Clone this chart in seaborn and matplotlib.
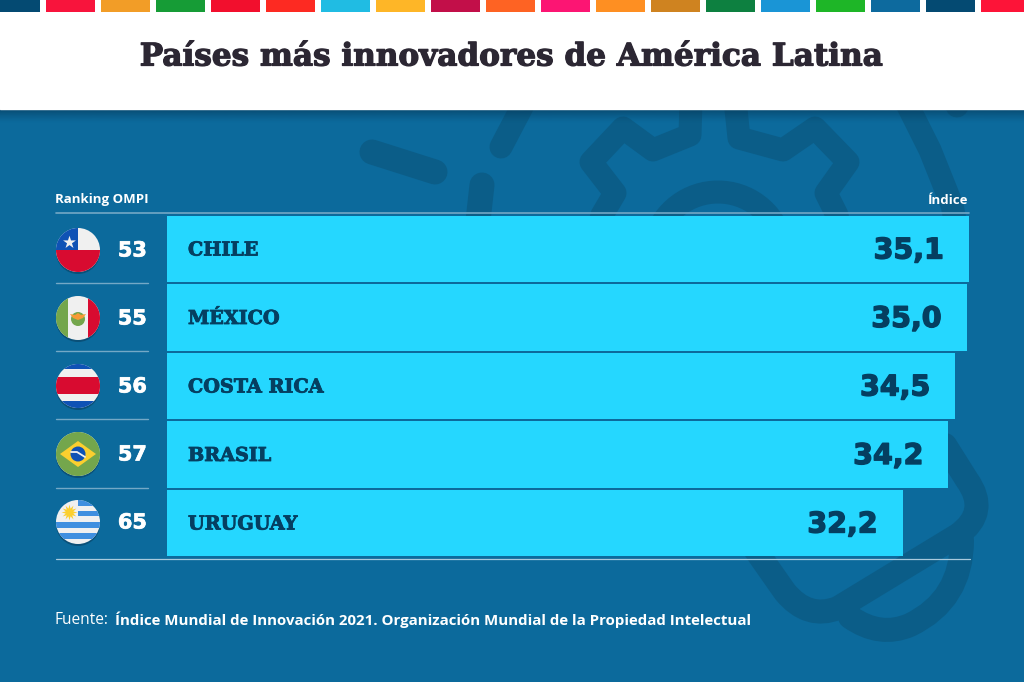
import numpy as np
import pandas as pd
import matplotlib.pyplot as plt
import matplotlib.patheffects as pe
import seaborn as sns
from matplotlib.patches import Circle, Rectangle, Polygon, PathPatch
from matplotlib.path import Path

paises = ["CHILE", "MÉXICO", "COSTA RICA", "BRASIL", "URUGUAY"]
indice = [35.1, 35.0, 34.5, 34.2, 32.2]
ranking = [53, 55, 56, 57, 65]
etiquetas = ["35,1", "35,0", "34,5", "34,2", "32,2"]
banderas = ["chile", "mexico", "costa_rica", "brasil", "uruguay"]

titulo = "Países más innovadores de América Latina"
fuente_a = "Fuente:"
fuente_b = "Índice Mundial de Innovación 2021. Organización Mundial de la Propiedad Intelectual"

colores_ods = ["#044a72", "#f8143c", "#f29d27", "#169c36", "#f20f2d", "#fd2a22", "#20bce3",
               "#feb627", "#c20f49", "#fe6323", "#fc1573", "#fe8f22", "#cf8320", "#0d8040",
               "#1a95d6", "#1eb627", "#0d6a9e", "#044a72", "#fd1438"]

AZUL = "#0c6a9c"
FANTASMA = "#0b5d88"
CIAN = "#25d7ff"
OSCURO = "#053f61"
LINEA = "#74a8c6"
ROJO = "#d80b30"
AZUL_B = "#0f52b5"
BLANCO_B = "#f0f0f0"
VERDE = "#74a64c"
AMARILLO = "#fbcf2f"
PX = 72 / 100

sns.set_theme(style="white")
plt.rcParams["font.family"] = ["Open Sans", "DejaVu Sans"]

fig = plt.figure(figsize=(10.24, 6.82), dpi=100, facecolor=AZUL)

# fondo en pixeles
bg = fig.add_axes([0, 0, 1, 1], zorder=0)
bg.set_facecolor(AZUL)
bg.axis("off")


def trazo(xs, ys, grosor=23):
    bg.plot(xs, ys, color=FANTASMA, lw=grosor * PX, solid_capstyle="round",
            solid_joinstyle="round", zorder=1)


def curva(puntos, codigos, grosor=23):
    bg.add_patch(PathPatch(Path(puntos, codigos), fc="none", ec=FANTASMA, lw=grosor * PX,
                           capstyle="round", joinstyle="round", zorder=1))


# engranaje y bombilla de fondo
trazo([372, 435], [152, 172], 25)
trazo([523, 501], [105, 147])
trazo([482, 477], [185, 230], 25)
trazo([691, 690, 653, 623, 591, 615, 602, 596], [100, 135, 150, 128, 162, 193, 215, 240])
trazo([735, 739, 783, 815, 848, 826, 837, 842], [100, 138, 150, 128, 162, 193, 215, 240])
t = np.linspace(np.pi, 2 * np.pi, 40)
trazo(718 + 66 * np.cos(t), 258 + 66 * np.sin(t))
trazo([905, 930, 952, 956], [100, 150, 205, 225])
trazo([960, 957], [100, 106])
C3, M, L = Path.CURVE3, Path.MOVETO, Path.LINETO
curva([(745, 535), (785, 592), (808, 620), (838, 608), (958, 535), (990, 512), (967, 480), (945, 445)],
      [M, L, C3, C3, L, C3, C3, L], 24)
curva([(962, 540), (962, 600), (910, 625), (880, 638), (850, 617)], [M, C3, C3, C3, C3], 24)

# banda blanca y tiras de colores
bg.add_patch(Rectangle((0, 0), 1024, 109, color="white", zorder=3))
for i, c in enumerate(colores_ods):
    bg.add_patch(Rectangle((-9 + 55 * i, -1), 49, 12.5, color=c, lw=0, zorder=4))
sombra = np.zeros((32, 1, 4))
sombra[:, 0, :3] = (0.02, 0.2, 0.32)
sombra[:, 0, 3] = np.linspace(0.65, 0, 32) ** 1.3
bg.imshow(sombra, extent=(0, 1024, 123, 109), aspect="auto", zorder=2)
bg.set_xlim(0, 1024)
bg.set_ylim(682, 0)

bg.text(512, 57, titulo, ha="center", va="center", fontsize=22.4, color="#2c2733",
        family="DejaVu Serif", weight="bold", zorder=5,
        path_effects=[pe.withStroke(linewidth=0.9, foreground="#2c2733")])


def bandera(nombre, cy, cx=78, r=22):
    bg.add_patch(Circle((cx, cy + 2), r, color="#0a5078", lw=0, zorder=3))
    disco = Circle((cx, cy), r, color=BLANCO_B, lw=0, zorder=4)
    bg.add_patch(disco)
    x0, y0 = cx - r, cy - r
    d = 2 * r
    piezas = []

    def rect(x, y, w, h, c):
        piezas.append(bg.add_patch(Rectangle((x0 + x * d, y0 + y * d), w * d, h * d,
                                             color=c, lw=0, zorder=5)))

    if nombre == "chile":
        rect(0, 0, 0.5, 0.5, AZUL_B)
        rect(0, 0.5, 1, 0.5, ROJO)
        bg.scatter(cx - 9, cy - 8, marker="*", s=95, color=BLANCO_B, lw=0, zorder=6)
    elif nombre == "mexico":
        rect(0, 0, 0.28, 1, VERDE)
        rect(0.72, 0, 0.28, 1, ROJO)
        bg.add_patch(Circle((cx, cy + 1), 7, color=VERDE, lw=0, zorder=6))
        bg.add_patch(Polygon([(cx - 8, cy - 4), (cx - 3, cy - 3), (cx, cy - 5), (cx + 3, cy - 3),
                              (cx + 8, cy - 4), (cx + 5, cy), (cx, cy + 2), (cx - 5, cy)],
                             color="#f79a34", lw=0, zorder=7))
    elif nombre == "costa_rica":
        rect(0, 0, 1, 0.12, AZUL_B)
        rect(0, 0.85, 1, 0.15, AZUL_B)
        rect(0, 0.3, 1, 0.38, ROJO)
    elif nombre == "brasil":
        rect(0, 0, 1, 1, VERDE)
        bg.add_patch(Polygon([(cx - 18, cy), (cx, cy - 13), (cx + 18, cy), (cx, cy + 13)],
                             color=AMARILLO, lw=0, zorder=6))
        bg.add_patch(Circle((cx, cy), 7.5, color=AZUL_B, lw=0, zorder=7))
        bg.plot([cx - 7, cx - 1, cx + 7], [cy - 2, cy - 2, cy + 3], color=BLANCO_B, lw=1.3, zorder=8)
    elif nombre == "uruguay":
        rect(0.5, 0.0, 0.5, 0.13, "#3f8fe0")
        rect(0.5, 0.24, 0.5, 0.13, "#3f8fe0")
        rect(0, 0.51, 1, 0.13, "#3f8fe0")
        rect(0, 0.76, 1, 0.13, "#3f8fe0")
        bg.scatter(cx - 9, cy - 10, marker=(12, 1, 0), s=130, color=AMARILLO, lw=0, zorder=6)
    for art in piezas:
        art.set_clip_path(disco)


# columna izquierda
for i, (r, b) in enumerate(zip(ranking, banderas)):
    cy = 250 + 68 * i
    bandera(b, cy)
    bg.text(147, cy + 0.5, str(r), ha="right", va="center", color="white", fontsize=15,
            family="DejaVu Sans", weight="bold", zorder=5,
            path_effects=[pe.withStroke(linewidth=0.5, foreground="white")])

for y in (283, 351, 419, 488):
    bg.plot([56, 148], [y, y], color=LINEA, lw=1, zorder=2)
bg.plot([56, 969], [213, 213], color=LINEA, lw=1.2, zorder=2)
bg.plot([56, 970], [559, 559], color="#a9cadd", lw=0.9, zorder=2)

bg.text(55, 200, "Ranking OMPI", ha="left", va="center", color="white", fontsize=9.5, weight="bold")
bg.text(968, 200, "Índice", ha="right", va="center", color="white", fontsize=9.5, weight="bold")
bg.text(55, 620, fuente_a, ha="left", va="center", color="white", fontsize=11.2)
bg.text(115, 620, fuente_b, ha="left", va="center", color="white", fontsize=10.8, weight="bold")

# barras: 0 a 35,1 ocupa de x=167 a x=969
ax = fig.add_axes([167 / 1024, 1 - 557.25 / 682, 802 / 1024, 342.5 / 682], zorder=2)
ax.patch.set_alpha(0)
df = pd.DataFrame({"pais": paises, "indice": indice})
sns.barplot(data=df, x="indice", y="pais", color=CIAN, saturation=1, width=0.97, linewidth=0, ax=ax)
ax.set_xlim(0, 35.1)
ax.set_ylim(4.5, -0.5)
ax.axis("off")

for i, (p, v, e) in enumerate(zip(paises, indice, etiquetas)):
    ax.annotate(p, (0, i), xytext=(21 * PX, -1.5 * PX), textcoords="offset points", ha="left", va="center",
                family="DejaVu Serif", weight="bold", fontsize=13.8, color=OSCURO,
                path_effects=[pe.withStroke(linewidth=0.6, foreground=OSCURO)])
    ax.annotate(e, (v, i), xytext=(-25 * PX, -1.5 * PX), textcoords="offset points", ha="right", va="center",
                family="DejaVu Sans", weight="bold", fontsize=20.5, color=OSCURO,
                path_effects=[pe.withStroke(linewidth=1, foreground=OSCURO)])

fig.savefig("out.png", dpi=100, facecolor=AZUL)
